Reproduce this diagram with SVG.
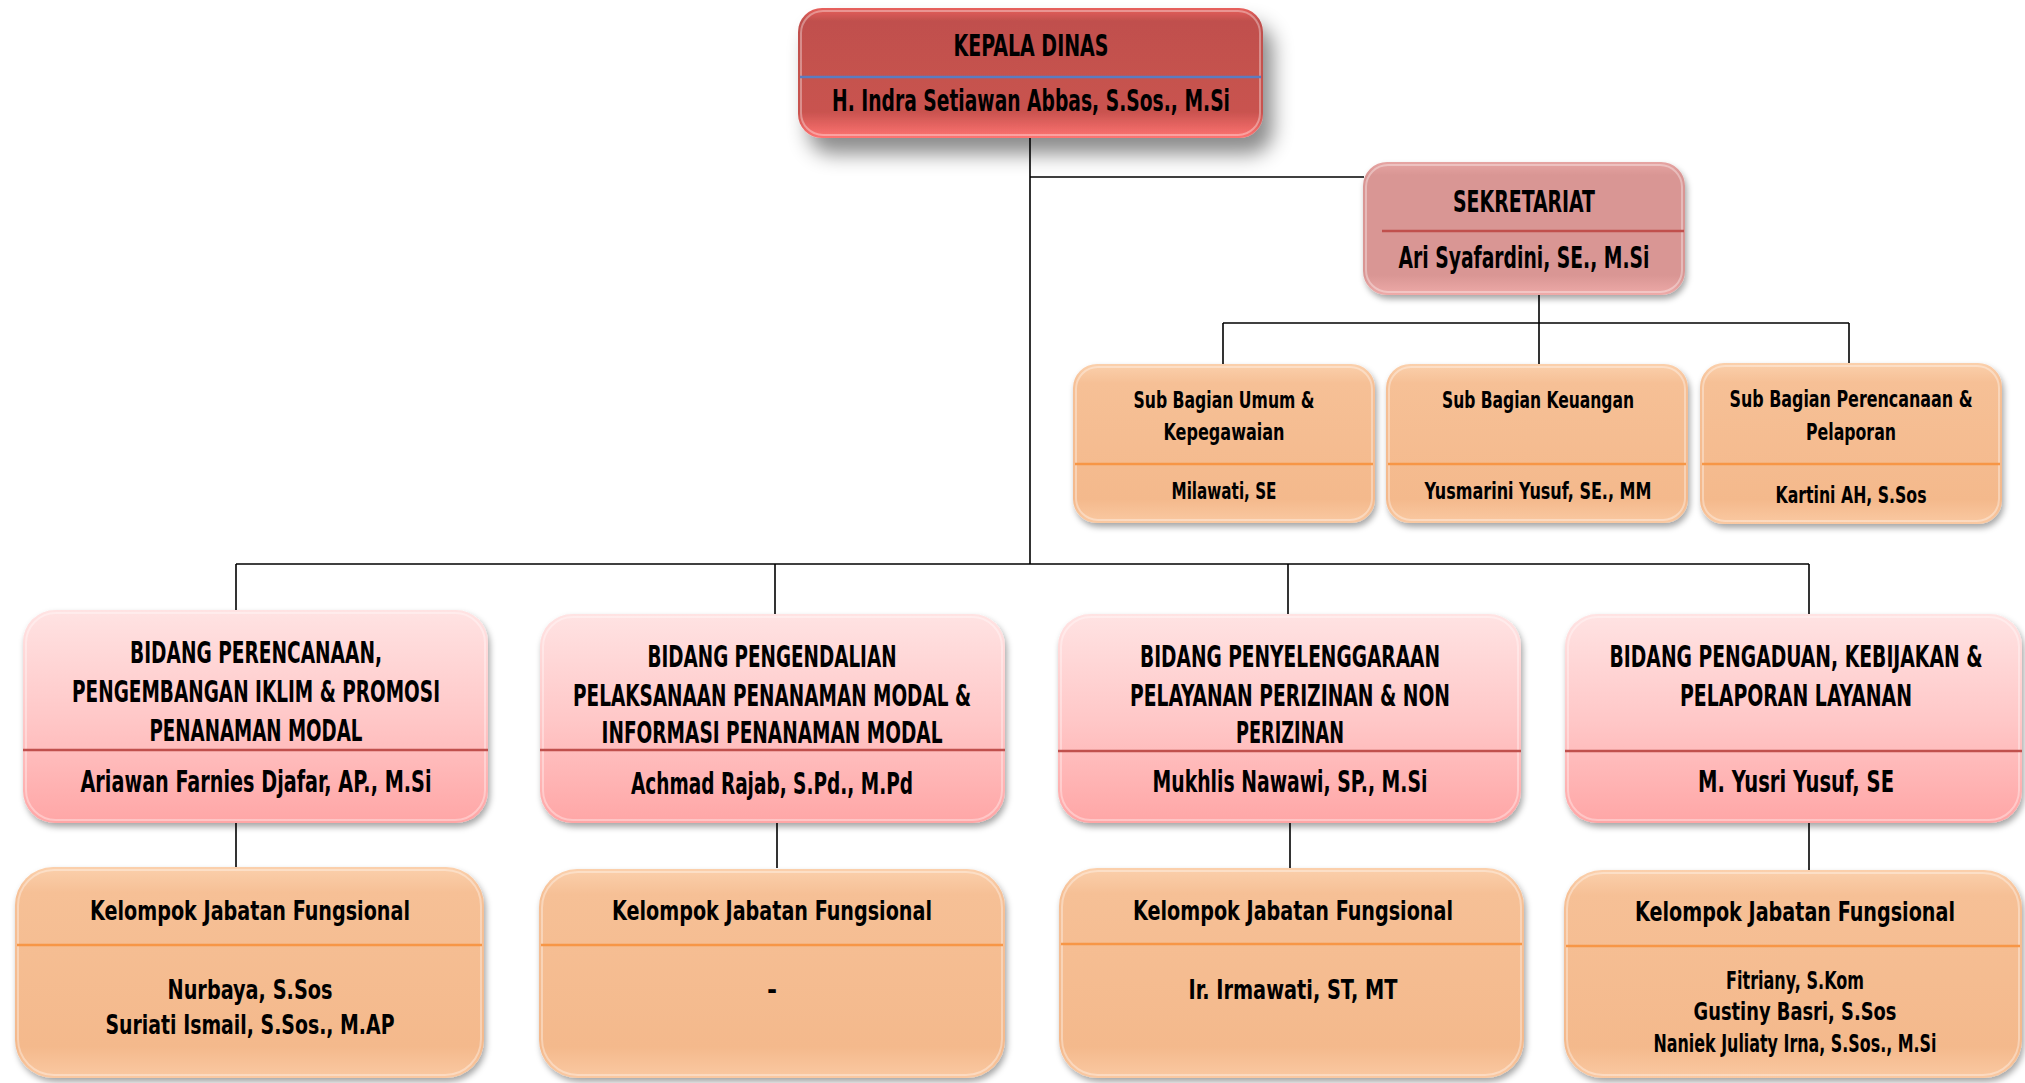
<svg xmlns="http://www.w3.org/2000/svg" width="2025" height="1083" viewBox="0 0 2025 1083">
<defs>
<linearGradient id="gKepala" x1="0" y1="0" x2="0" y2="1">
<stop offset="0" stop-color="#e8605c"/><stop offset="0.1" stop-color="#c0504d"/><stop offset="0.8" stop-color="#c9534f"/><stop offset="1" stop-color="#ff7472"/>
</linearGradient>
<linearGradient id="gSek" x1="0" y1="0" x2="0" y2="1">
<stop offset="0" stop-color="#e6a4a2"/><stop offset="0.1" stop-color="#d99694"/><stop offset="0.85" stop-color="#d99694"/><stop offset="1" stop-color="#eeaaa8"/>
</linearGradient>
<linearGradient id="gOr" x1="0" y1="0" x2="0" y2="1">
<stop offset="0" stop-color="#fbd0ac"/><stop offset="0.12" stop-color="#f6c096"/><stop offset="0.85" stop-color="#f4b98c"/><stop offset="1" stop-color="#fac9a2"/>
</linearGradient>
<linearGradient id="gPink" x1="0" y1="0" x2="0" y2="1">
<stop offset="0" stop-color="#ffe3e3"/><stop offset="0.5" stop-color="#ffc8c8"/><stop offset="1" stop-color="#ffa6a6"/>
</linearGradient>
<filter id="shBig" x="-20%" y="-30%" width="150%" height="180%">
<feDropShadow dx="10" dy="16" stdDeviation="10" flood-color="#000" flood-opacity="0.45"/>
</filter>
<filter id="sh" x="-10%" y="-10%" width="130%" height="130%">
<feDropShadow dx="2" dy="4" stdDeviation="3" flood-color="#000" flood-opacity="0.35"/>
</filter>
</defs>
<style>
text{font-family:"DejaVu Sans Condensed","DejaVu Sans",sans-serif;font-weight:bold;fill:#000;text-anchor:middle;font-stretch:condensed}
.conn line{stroke:#000;stroke-width:1.6}
.hl{fill:none;stroke:#ffffff;stroke-opacity:0.35;stroke-width:2}
.divR{stroke:#c0504d;stroke-width:2.5}
.divO{stroke:#f79646;stroke-width:2.5}
.divB{stroke:#5b7cc0;stroke-width:2.5}
.t30{font-size:30px}
.t31{font-size:31px}
.t23{font-size:23px}
.t27{font-size:27px}
.t24{font-size:24px}
</style>
<rect width="2025" height="1083" fill="#ffffff"/>
<g class="conn">
<line x1="1030" y1="138" x2="1030" y2="564"/>
<line x1="1030" y1="177" x2="1364" y2="177"/>
<line x1="1539" y1="294" x2="1539" y2="323"/>
<line x1="1223" y1="323" x2="1849" y2="323"/>
<line x1="1223" y1="323" x2="1223" y2="365"/>
<line x1="1539" y1="323" x2="1539" y2="365"/>
<line x1="1849" y1="323" x2="1849" y2="365"/>
<line x1="236" y1="564" x2="1809" y2="564"/>
<line x1="236" y1="564" x2="236" y2="612"/>
<line x1="775" y1="564" x2="775" y2="614"/>
<line x1="1288" y1="564" x2="1288" y2="614"/>
<line x1="1809" y1="564" x2="1809" y2="614"/>
<line x1="236" y1="823" x2="236" y2="868"/>
<line x1="777" y1="823" x2="777" y2="868"/>
<line x1="1290" y1="823" x2="1290" y2="868"/>
<line x1="1809" y1="823" x2="1809" y2="870"/>
</g>
<g id="kepala-dinas">
<rect x="798" y="8" width="465" height="130" rx="24" fill="url(#gKepala)" filter="url(#shBig)"/>
<rect x="801" y="11" width="459" height="124" rx="22" class="hl"/>
<line x1="800" y1="77" x2="1261" y2="77" class="divB"/>
<text x="1031" y="56" class="t30" textLength="155" lengthAdjust="spacingAndGlyphs">KEPALA DINAS</text>
<text x="1031" y="111" class="t30" textLength="398" lengthAdjust="spacingAndGlyphs">H. Indra Setiawan Abbas, S.Sos., M.Si</text>
</g>
<g id="sekretariat">
<rect x="1363" y="162" width="322" height="133" rx="24" fill="url(#gSek)" filter="url(#sh)"/>
<rect x="1366" y="165" width="316" height="127" rx="22" class="hl"/>
<line x1="1382" y1="231" x2="1684" y2="231" class="divR"/>
<text x="1524" y="212" class="t31" textLength="142" lengthAdjust="spacingAndGlyphs">SEKRETARIAT</text>
<text x="1524" y="268" class="t31" textLength="251" lengthAdjust="spacingAndGlyphs">Ari Syafardini, SE., M.Si</text>
</g>
<g id="sub-umum">
<rect x="1073" y="364" width="302" height="159" rx="24" fill="url(#gOr)" filter="url(#sh)"/>
<rect x="1076" y="367" width="296" height="153" rx="22" class="hl"/>
<line x1="1075" y1="464" x2="1373" y2="464" class="divO"/>
<text x="1224" y="408" class="t23" textLength="181" lengthAdjust="spacingAndGlyphs">Sub Bagian Umum &amp;</text>
<text x="1224" y="440" class="t23" textLength="121" lengthAdjust="spacingAndGlyphs">Kepegawaian</text>
<text x="1224" y="499" class="t23" textLength="105" lengthAdjust="spacingAndGlyphs">Milawati, SE</text>
</g>
<g id="sub-keuangan">
<rect x="1386" y="364" width="302" height="159" rx="24" fill="url(#gOr)" filter="url(#sh)"/>
<rect x="1389" y="367" width="296" height="153" rx="22" class="hl"/>
<line x1="1388" y1="464" x2="1686" y2="464" class="divO"/>
<text x="1538" y="408" class="t23" textLength="192" lengthAdjust="spacingAndGlyphs">Sub Bagian Keuangan</text>
<text x="1538" y="499" class="t23" textLength="227" lengthAdjust="spacingAndGlyphs">Yusmarini Yusuf, SE., MM</text>
</g>
<g id="sub-perencanaan">
<rect x="1700" y="363" width="302" height="161" rx="24" fill="url(#gOr)" filter="url(#sh)"/>
<rect x="1703" y="366" width="296" height="155" rx="22" class="hl"/>
<line x1="1702" y1="464" x2="2000" y2="464" class="divO"/>
<text transform="translate(1851,407) scale(1,1.28)" font-size="18" textLength="243" lengthAdjust="spacingAndGlyphs">Sub Bagian Perencanaan &amp;</text>
<text x="1851" y="440" class="t23" textLength="90" lengthAdjust="spacingAndGlyphs">Pelaporan</text>
<text x="1851" y="503" class="t23" textLength="151" lengthAdjust="spacingAndGlyphs">Kartini AH, S.Sos</text>
</g>
<g id="bidang-perencanaan">
<rect x="23" y="610" width="465" height="213" rx="32" fill="url(#gPink)" filter="url(#sh)"/>
<rect x="26" y="613" width="459" height="207" rx="30" class="hl"/>
<line x1="23" y1="750" x2="488" y2="750" class="divR"/>
<text x="256" y="663" class="t30" textLength="252" lengthAdjust="spacingAndGlyphs">BIDANG PERENCANAAN,</text>
<text x="256" y="702" class="t30" textLength="368" lengthAdjust="spacingAndGlyphs">PENGEMBANGAN IKLIM &amp; PROMOSI</text>
<text x="256" y="741" class="t30" textLength="213" lengthAdjust="spacingAndGlyphs">PENANAMAN MODAL</text>
<text x="256" y="792" class="t30" textLength="351" lengthAdjust="spacingAndGlyphs">Ariawan Farnies Djafar, AP., M.Si</text>
</g>
<g id="bidang-pengendalian">
<rect x="540" y="614" width="465" height="209" rx="32" fill="url(#gPink)" filter="url(#sh)"/>
<rect x="543" y="617" width="459" height="203" rx="30" class="hl"/>
<line x1="540" y1="750" x2="1005" y2="750" class="divR"/>
<text x="772" y="667" class="t30" textLength="249" lengthAdjust="spacingAndGlyphs">BIDANG PENGENDALIAN</text>
<text x="772" y="706" class="t30" textLength="398" lengthAdjust="spacingAndGlyphs">PELAKSANAAN PENANAMAN MODAL &amp;</text>
<text x="772" y="743" class="t30" textLength="341" lengthAdjust="spacingAndGlyphs">INFORMASI PENANAMAN MODAL</text>
<text x="772" y="794" class="t30" textLength="282" lengthAdjust="spacingAndGlyphs">Achmad Rajab, S.Pd., M.Pd</text>
</g>
<g id="bidang-penyelenggaraan">
<rect x="1058" y="614" width="463" height="209" rx="32" fill="url(#gPink)" filter="url(#sh)"/>
<rect x="1061" y="617" width="457" height="203" rx="30" class="hl"/>
<line x1="1058" y1="751" x2="1521" y2="751" class="divR"/>
<text x="1290" y="667" class="t30" textLength="300" lengthAdjust="spacingAndGlyphs">BIDANG PENYELENGGARAAN</text>
<text x="1290" y="706" class="t30" textLength="320" lengthAdjust="spacingAndGlyphs">PELAYANAN PERIZINAN &amp; NON</text>
<text x="1290" y="743" class="t30" textLength="108" lengthAdjust="spacingAndGlyphs">PERIZINAN</text>
<text x="1290" y="792" class="t30" textLength="275" lengthAdjust="spacingAndGlyphs">Mukhlis Nawawi, SP., M.Si</text>
</g>
<g id="bidang-pengaduan">
<rect x="1565" y="614" width="457" height="209" rx="32" fill="url(#gPink)" filter="url(#sh)"/>
<rect x="1568" y="617" width="451" height="203" rx="30" class="hl"/>
<line x1="1565" y1="751" x2="2022" y2="751" class="divR"/>
<text transform="translate(1796,667) scale(1,1.3)" font-size="23" textLength="373" lengthAdjust="spacingAndGlyphs">BIDANG PENGADUAN, KEBIJAKAN &amp;</text>
<text transform="translate(1796,706) scale(1,1.3)" font-size="23" textLength="232" lengthAdjust="spacingAndGlyphs">PELAPORAN LAYANAN</text>
<text x="1796" y="792" class="t30" textLength="196" lengthAdjust="spacingAndGlyphs">M. Yusri Yusuf, SE</text>
</g>
<g id="kelompok-1">
<rect x="15" y="867" width="469" height="211" rx="38" fill="url(#gOr)" filter="url(#sh)"/>
<rect x="18" y="870" width="463" height="205" rx="36" class="hl"/>
<line x1="17" y1="945" x2="482" y2="945" class="divO"/>
<text x="250" y="920" class="t27" textLength="320" lengthAdjust="spacingAndGlyphs">Kelompok Jabatan Fungsional</text>
<text x="250" y="999" class="t27" textLength="165" lengthAdjust="spacingAndGlyphs">Nurbaya, S.Sos</text>
<text x="250" y="1034" class="t27" textLength="289" lengthAdjust="spacingAndGlyphs">Suriati Ismail, S.Sos., M.AP</text>
</g>
<g id="kelompok-2">
<rect x="539" y="869" width="466" height="209" rx="38" fill="url(#gOr)" filter="url(#sh)"/>
<rect x="542" y="872" width="460" height="203" rx="36" class="hl"/>
<line x1="541" y1="945" x2="1003" y2="945" class="divO"/>
<text x="772" y="920" class="t27" textLength="320" lengthAdjust="spacingAndGlyphs">Kelompok Jabatan Fungsional</text>
<text x="772" y="999" class="t27">-</text>
</g>
<g id="kelompok-3">
<rect x="1059" y="868" width="465" height="210" rx="38" fill="url(#gOr)" filter="url(#sh)"/>
<rect x="1062" y="871" width="459" height="204" rx="36" class="hl"/>
<line x1="1061" y1="944" x2="1522" y2="944" class="divO"/>
<text x="1293" y="920" class="t27" textLength="320" lengthAdjust="spacingAndGlyphs">Kelompok Jabatan Fungsional</text>
<text x="1293" y="999" class="t27" textLength="209" lengthAdjust="spacingAndGlyphs">Ir. Irmawati, ST, MT</text>
</g>
<g id="kelompok-4">
<rect x="1564" y="870" width="458" height="208" rx="38" fill="url(#gOr)" filter="url(#sh)"/>
<rect x="1567" y="873" width="452" height="202" rx="36" class="hl"/>
<line x1="1566" y1="946" x2="2020" y2="946" class="divO"/>
<text transform="translate(1795,921) scale(1,1.29)" font-size="21" textLength="320" lengthAdjust="spacingAndGlyphs">Kelompok Jabatan Fungsional</text>
<text transform="translate(1795,989) scale(1,1.26)" font-size="19" textLength="138" lengthAdjust="spacingAndGlyphs">Fitriany, S.Kom</text>
<text transform="translate(1795,1020) scale(1,1.26)" font-size="19" textLength="203" lengthAdjust="spacingAndGlyphs">Gustiny Basri, S.Sos</text>
<text transform="translate(1795,1052) scale(1,1.26)" font-size="19" textLength="283" lengthAdjust="spacingAndGlyphs">Naniek Juliaty Irna, S.Sos., M.Si</text>
</g>
</svg>
